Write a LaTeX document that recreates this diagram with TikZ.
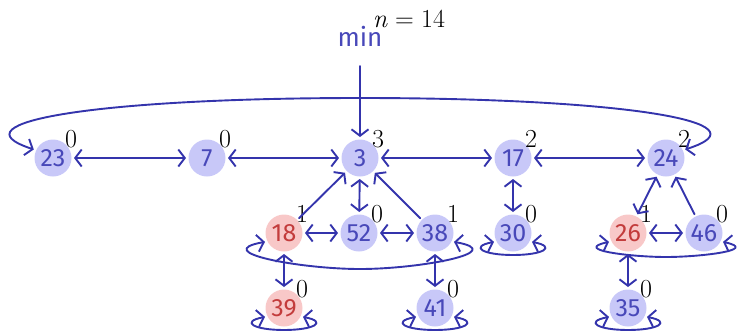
\documentclass[tikz,border=0pt]{standalone}
\usepackage{fontspec}
\newfontfamily\fira{Fira Sans}
\usetikzlibrary{arrows.meta}
\definecolor{nfill}{RGB}{200,200,248}
\definecolor{ntext}{RGB}{72,72,185}
\definecolor{rfill}{RGB}{248,200,200}
\definecolor{rtext}{RGB}{195,60,60}
\definecolor{ecol}{RGB}{52,52,172}
\newcommand{\selfloop}[1]{\draw[edge,<->] (#1.-155) .. controls +(-25,5) and +(-30,0) .. ([yshift=-22pt]#1.center) .. controls +(30,0) and +(25,5) .. (#1.-25);}
\tikzset{
  hnode/.style={circle, fill=nfill, text=ntext, minimum size=37pt, inner sep=0pt, outer sep=2.5pt, font=\fira\fontsize{25}{25}\selectfont},
  rnode/.style={hnode, fill=rfill, text=rtext},
  deg/.style={inner sep=0pt, font=\fontsize{26}{26}\selectfont},
  edge/.style={draw=ecol, line width=1.9pt, line cap=round, line join=round},
  >={Straight Barb[length=6.5pt,width=17pt]}
}
\begin{document}
\begin{tikzpicture}[x=1pt,y=-1pt]
\useasboundingbox (0,0) rectangle (737,330);
% nodes
\node[hnode] (n23) at (53,158) {23};
\node[hnode] (n7) at (207,158) {7};
\node[hnode] (n3) at (360,158) {3};
\node[hnode] (n17) at (513,158) {17};
\node[hnode] (n24) at (666,158) {24};
\node[rnode] (n18) at (284,233) {18};
\node[hnode] (n52) at (359,233) {52};
\node[hnode] (n38) at (435,233) {38};
\node[hnode] (n30) at (513,233) {30};
\node[rnode] (n26) at (628,233) {26};
\node[hnode] (n46) at (704,233) {46};
\node[rnode] (n39) at (284,308) {39};
\node[hnode] (n41) at (435,308) {41};
\node[hnode] (n35) at (628,308) {35};
% degree labels
\foreach \n/\d in {n23/0,n7/0,n3/3,n17/2,n24/2,n18/1,n52/0,n38/1,n30/0,n26/1,n46/0,n39/0,n41/0,n35/0}
  \node[deg] at ([shift={(18,-19)}]\n.center) {\d};
% min pointer
\node[inner sep=0pt, text=ntext, font=\fira\fontsize{26}{26}\selectfont, anchor=base] (min) at (360,46) {min};
\node[inner sep=0pt, font=\fontsize{26}{26}\selectfont] (cnt) at (409,19) {\textit{n}\hspace{0.28em}=\hspace{0.28em}14};
\draw[edge,->] (360,66) coordinate (mins) -- (n3);
% root list
\draw[edge,<->] (n23) -- (n7);
\draw[edge,<->] (n7) -- (n3);
\draw[edge,<->] (n3) -- (n17);
\draw[edge,<->] (n17) -- (n24);
\draw[edge,<->] (n24.24) .. controls (771,122) and (621,98) .. (360,98) .. controls (100,98) and (-50,122) .. (n23.156);
% children of 3
\draw[edge,->] (n18) -- (n3);
\draw[edge,<->] (n52) -- (n3);
\draw[edge,->] (n38) -- (n3);
\draw[edge,<->] (n18) -- (n52);
\draw[edge,<->] (n52) -- (n38);
\draw[edge,<->] (n38.-25) .. controls (510,252) and (420,269) .. (360,269) .. controls (300,269) and (209,252) .. (n18.-155);
\draw[edge,<->] (n18) -- (n39);
\selfloop{n39}
\draw[edge,<->] (n38) -- (n41);
\selfloop{n41}
% 17
\draw[edge,<->] (n17) -- (n30);
\selfloop{n30}
% 24
\draw[edge,<->] (n24) -- (n26);
\draw[edge,->] (n46) -- (n24);
\draw[edge,<->] (n26) -- (n46);
\draw[edge,<->] (n46.-25) .. controls (760,250) and (700,257) .. (666,257) .. controls (632,257) and (572,250) .. (n26.-155);
\draw[edge,<->] (n26) -- (n35);
\selfloop{n35}
\end{tikzpicture}
\end{document}
